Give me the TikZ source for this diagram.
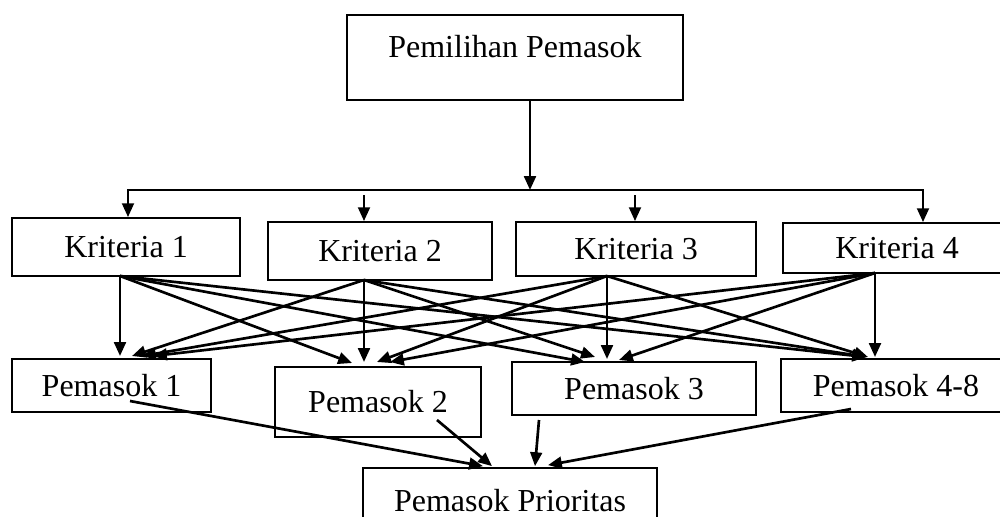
\documentclass[tikz,border=0pt]{standalone}
\usepackage{fontspec}
\setmainfont{Liberation Serif}
\usetikzlibrary{arrows.meta}

\begin{document}
\begin{tikzpicture}[x=0.375pt, y=-0.375pt,
    box/.style={draw=black, line width=0.65pt, rectangle, inner sep=0pt, font=\fontsize{12}{14}\selectfont},
    wire/.style={draw=black, line width=1pt, line cap=rect},
    arr/.style={draw=black, line width=1pt, -{Triangle[length=5.2pt, width=4.4pt]}}]
    \useasboundingbox (0,0) rectangle (1000,516);
    \clip (0,0) rectangle (1000,516);
    \fill[white] (0,0) rectangle (1000,516);
    % goal
    \node[box, minimum width=126pt, minimum height=31.9pt, text depth=8pt] (NT) at (515,57.5) {Pemilihan Pemasok};
    % criteria
    \node[box, minimum width=85.5pt, minimum height=21.75pt] (NK1) at (126,247) {Kriteria 1};
    \node[box, minimum width=84pt, minimum height=21.75pt] (NK2) at (380,251) {Kriteria 2};
    \node[box, minimum width=90pt, minimum height=20.25pt] (NK3) at (636,249) {Kriteria 3};
    \node[box, minimum width=85.5pt, minimum height=18.75pt] (NK4) at (897,248) {Kriteria 4};
    % suppliers
    \node[box, minimum width=74.6pt, minimum height=19.9pt, text depth=0pt] (NP1) at (111.5,385.5) {Pemasok 1};
    \node[box, minimum width=77.25pt, minimum height=26.25pt] (NP2) at (378,402) {Pemasok 2};
    \node[box, minimum width=91.5pt, minimum height=19.9pt, text depth=0pt] (NP3) at (634,388.5) {Pemasok 3};
    \node[box, minimum width=86.25pt, minimum height=19.9pt, text depth=0pt] (NP4) at (896,385.5) {Pemasok 4-8};
    \node[box, minimum width=110.25pt, minimum height=24.75pt] (NPP) at (510,501) {Pemasok Prioritas};
    % connector points
    \coordinate (CT) at (530,100);
    \coordinate (CH) at (530,190);
    \coordinate (CL) at (128,190);
    \coordinate (CR) at (923,190);
    \coordinate (CD2) at (364,195);
    \coordinate (CD3) at (635,195);
    \coordinate (CK1) at (120,276);
    \coordinate (CK2) at (364,280);
    \coordinate (CK3) at (607,276);
    \coordinate (CK4) at (875,273);
    \coordinate (CP1) at (120,356);
    \coordinate (CP2) at (364,362);
    \coordinate (CP3) at (607,359);
    \coordinate (CP4) at (875,357);
    \coordinate (CO1) at (130,401);
    \coordinate (CO2) at (437,420);
    \coordinate (CO3) at (539,420);
    \coordinate (CO4) at (851,409);
    % goal to criteria
    \draw [arr] (CT) -- (CH);
    \draw [wire] (CL) -- (CR);
    \draw [arr] (CL) -- (CL |- NK1.north);
    \draw [arr] (CD2) -- (CD2 |- NK2.north);
    \draw [arr] (CD3) -- (CD3 |- NK3.north);
    \draw [arr] (CR) -- (CR |- NK4.north);
    % criteria to suppliers
    \draw [arr] (CK1) -- (CP1);
    \draw [arr] (CK1) -- ([shift={(-12,1)}]CP2);
    \draw [arr] (CK1) -- ([shift={(-22,3)}]CP3);
    \draw [arr] (CK1) -- ([shift={(-9,0)}]CP4);
    \draw [arr] (CK2) -- ([shift={(12,0)}]CP1);
    \draw [arr] (CK2) -- (CP2);
    \draw [arr] (CK2) -- ([shift={(-12,-2)}]CP3);
    \draw [arr] (CK2) -- ([shift={(-8,0)}]CP4);
    \draw [arr] (CK3) -- ([shift={(22,0)}]CP1);
    \draw [arr] (CK3) -- ([shift={(13,0)}]CP2);
    \draw [arr] (CK3) -- (CP3);
    \draw [arr] (CK3) -- ([shift={(-7,0)}]CP4);
    \draw [arr] (CK4) -- ([shift={(33,0)}]CP1);
    \draw [arr] (CK4) -- ([shift={(26,0)}]CP2);
    \draw [arr] (CK4) -- ([shift={(12,1)}]CP3);
    \draw [arr] (CK4) -- (CP4);
    % suppliers to priority
    \draw [arr] (CO1) -- ([shift={(-27,-1)}]NPP.north);
    \draw [arr] (CO2) -- ([shift={(-18,-1)}]NPP.north);
    \draw [arr] (CO3) -- ([shift={(25,-1)}]NPP.north);
    \draw [arr] (CO4) -- ([shift={(38,-2)}]NPP.north);
  \end{tikzpicture}
\end{document}
